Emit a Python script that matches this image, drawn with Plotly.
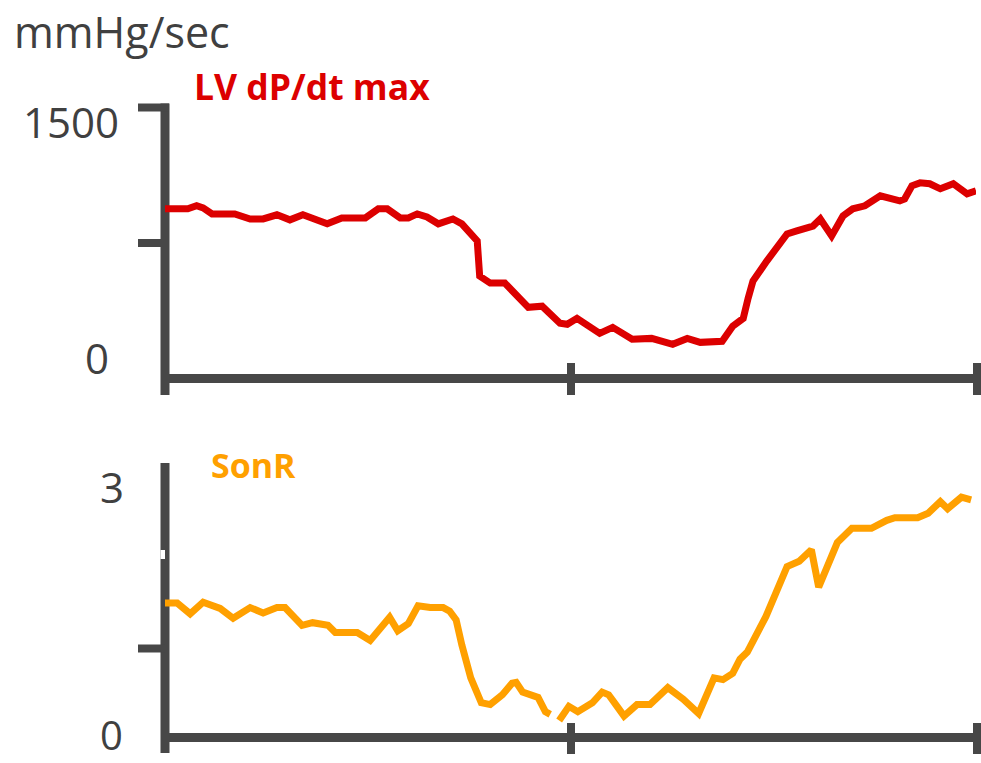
import plotly.graph_objects as go

# ---------------- data ----------------
time_dpdt = [0, 2.8, 3.9, 4.7, 5.8, 8.6, 10.5, 12.1, 13.8, 15.4, 17.0, 18.2, 20.0, 21.8, 24.7,
             26.3, 27.4, 29.0, 30.0, 31.1, 32.3, 33.7, 35.5, 36.6, 38.0, 38.5, 38.8, 40.1, 41.9,
             42.9, 44.8, 46.5, 48.7, 49.6, 50.8, 53.6, 55.2, 57.6, 60.0, 62.6, 64.4, 66.0, 68.7,
             70.0, 71.3, 71.9, 72.5, 74.2, 76.7, 77.9, 79.9, 80.8, 82.2, 83.6, 84.8, 86.3, 88.2,
             90.6, 91.2, 92.1, 93.1, 94.3, 95.6, 97.2, 98.9, 100]
lv_dpdt_max = [939, 939, 956, 944, 911, 911, 883, 883, 906, 878, 906, 889, 856, 889, 889,
               939, 939, 889, 889, 911, 894, 856, 883, 856, 795, 761, 567, 528, 528,
               483, 394, 400, 306, 300, 333, 250, 283, 217, 222, 189, 222, 200, 206,
               289, 333, 444, 539, 650, 800, 817, 844, 883, 789, 900, 939, 956, 1011,
               983, 994, 1067, 1083, 1078, 1050, 1078, 1022, 1039]

time_sonr = [0, 1.5, 3.1, 4.7, 6.8, 8.4, 10.5, 12.1, 13.8, 14.8, 16.9, 18.2, 20.1, 21.0, 23.7,
             25.3, 27.7, 28.7, 30.0, 31.2, 32.7, 34.3, 35.1, 35.9, 36.6, 37.7, 39.0, 40.1, 41.6,
             42.8, 43.3, 44.1, 46.0, 46.9, 47.5, 48.0, 48.6, 49.8, 50.9, 52.7, 53.9, 54.7, 55.9,
             56.6, 58.2, 59.8, 62.0, 63.9, 65.8, 67.7, 68.8, 70.0, 70.9, 71.8, 74.1, 76.0, 76.7,
             78.2, 79.7, 80.6, 82.9, 84.7, 87.1, 89.0, 90.0, 92.8, 94.1, 95.6, 96.5, 98.2, 99.4]
sonr = [1.51, 1.51, 1.39, 1.52, 1.45, 1.34, 1.46, 1.40, 1.46, 1.46, 1.26, 1.29, 1.26, 1.18, 1.18,
        1.09, 1.35, 1.20, 1.28, 1.48, 1.46, 1.46, 1.42, 1.32, 1.04, 0.67, 0.39, 0.37, 0.48,
        0.61, 0.62, 0.51, 0.45, 0.29, 0.26, None, 0.19, 0.35, 0.29, 0.39, 0.51, 0.48, 0.33,
        0.24, 0.37, 0.37, 0.56, 0.43, 0.27, 0.67, 0.65, 0.72, 0.88, 0.96, 1.36, 1.76, 1.92,
        1.98, 2.11, 1.69, 2.19, 2.35, 2.35, 2.44, 2.47, 2.47, 2.52, 2.65, 2.57, 2.70, 2.67]

top_tick_labels = ["1500", "0"]
bottom_tick_labels = ["3", "0"]
unit_label = "mmHg/sec"
top_title = "LV dP/dt max"
bottom_title = "SonR"

# ---------------- layout helpers ----------------
W, H = 981, 763
RED = "#DC0000"
ORANGE = "#FFA000"
AXIS = "#474747"
TEXT = "#404040"
FONT = "Open Sans"


def px(x):
    return x / W


def py(y):
    return 1 - y / H


fig = go.Figure()
fig.add_trace(go.Scatter(x=time_dpdt, y=lv_dpdt_max, mode="lines",
                         line=dict(color=RED, width=7), xaxis="x", yaxis="y",
                         showlegend=False, hoverinfo="skip"))
fig.add_trace(go.Scatter(x=time_sonr, y=sonr, mode="lines", connectgaps=False,
                         line=dict(color=ORANGE, width=7), xaxis="x2", yaxis="y2",
                         showlegend=False, hoverinfo="skip"))

xdom = [px(165), px(976)]
fig.update_layout(
    width=W, height=H, margin=dict(l=0, r=0, t=0, b=0),
    paper_bgcolor="white", plot_bgcolor="rgba(0,0,0,0)",
    xaxis=dict(domain=xdom, range=[0, 100], visible=False),
    yaxis=dict(domain=[py(378.5), py(107.5)], range=[0, 1500], visible=False),
    xaxis2=dict(domain=xdom, range=[0, 100], visible=False),
    yaxis2=dict(domain=[py(737.5), py(470.5)], range=[0, 3], visible=False),
)

shapes = []


def seg(x0, y0, x1, y1, w=9, color=AXIS):
    shapes.append(dict(type="line", xref="paper", yref="paper",
                       x0=px(x0), y0=py(y0), x1=px(x1), y1=py(y1),
                       line=dict(color=color, width=w), layer="below"))


# top panel axes
seg(165, 103.5, 165, 395)
seg(138, 107.5, 169, 107.5, 8)
seg(138, 243, 165, 243, 8)
seg(165, 378.5, 981, 378.5)
seg(571, 363, 571, 395, 8)
seg(977, 363, 977, 395, 8)

# bottom panel axes
seg(165, 463, 165, 753)
seg(138, 648.5, 165, 648.5, 8)
seg(165, 737.5, 981, 737.5)
seg(571, 723, 571, 754, 8)
seg(977, 723, 977, 754, 8)
# axis break notch
shapes.append(dict(type="rect", xref="paper", yref="paper",
                   x0=px(160.5), x1=px(165), y0=py(559), y1=py(550),
                   fillcolor="white", line=dict(width=0), layer="below"))

fig.update_layout(shapes=shapes)

ann = []


def text(t, x, y, size, color, xanchor="center", bold=False, yanchor="middle"):
    ann.append(dict(text=(f"<b>{t}</b>" if bold else t), x=px(x), y=py(y),
                    xref="paper", yref="paper", xanchor=xanchor, yanchor=yanchor,
                    showarrow=False, borderpad=0,
                    font=dict(family=FONT, size=size, color=color)))


text(unit_label, 122, 32, 43, TEXT)
text(top_title, 312, 86, 35.5, RED, bold=True)
text(top_tick_labels[0], 120, 121, 42, TEXT, xanchor="right")
text(top_tick_labels[1], 110, 357, 42, TEXT, xanchor="right")
text(bottom_title, 253, 465, 34, ORANGE, bold=True)
text(bottom_tick_labels[0], 125, 486, 42, TEXT, xanchor="right")
text(bottom_tick_labels[1], 124, 763, 40, TEXT, xanchor="right", yanchor="bottom")

fig.update_layout(annotations=ann)

fig.write_html(
    "out.html",
    config={"displayModeBar": False},
    post_script="document.body.style.margin='0';document.body.style.overflow='hidden';",
)
